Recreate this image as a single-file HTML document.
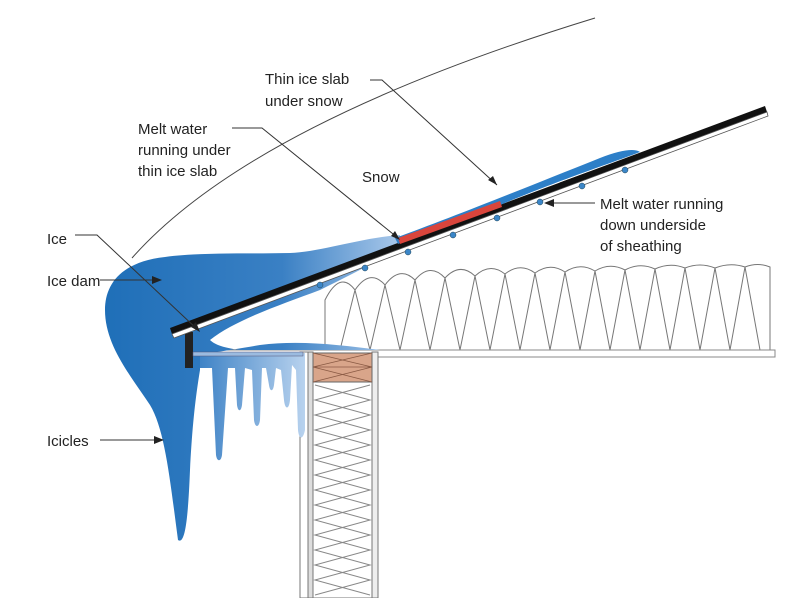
<!DOCTYPE html>
<html><head><meta charset="utf-8"><style>
html,body{margin:0;padding:0;background:#fff;}
svg{display:block;}
text{font-family:"Liberation Sans",sans-serif;font-size:15px;fill:#222;}
</style></head><body>
<svg width="785" height="598" viewBox="0 0 785 598" xmlns="http://www.w3.org/2000/svg">
<defs>
<linearGradient id="ice" x1="0" y1="0" x2="1" y2="0">
<stop offset="0" stop-color="#1f6fb8"/><stop offset="0.6" stop-color="#3a80c4"/><stop offset="1" stop-color="#a9c8ea"/>
</linearGradient>
<linearGradient id="ice2" x1="0" y1="0" x2="1" y2="0">
<stop offset="0" stop-color="#3f83c6"/><stop offset="1" stop-color="#b8d2ee"/>
</linearGradient>
</defs>
<path d="M132,258 C210,170 360,90 595,18" fill="none" stroke="#444" stroke-width="1"/>
<g fill="#fff" stroke="#777" stroke-width="1">
<path d="M325,350 L325,300 Q340,270 355,290 Q370,268 385,285 Q400,265 415,280 Q430,262 445,278 Q460,262 475,276 Q490,262 505,274 Q520,262 535,273 Q550,262 565,272 Q580,262 595,271 Q610,262 625,270 Q640,262 655,269 Q670,262 685,268 Q700,262 715,268 Q730,262 745,267 Q758,262 770,267 L770,350 Z"/>
<path d="M340,350 L355,290 L370,350 L385,285 L400,350 L415,280 L430,350 L445,278 L460,350 L475,276 L490,350 L505,274 L520,350 L535,273 L550,350 L565,272 L580,350 L595,271 L610,350 L625,270 L640,350 L655,269 L670,350 L685,268 L700,350 L715,268 L730,350 L745,267 L760,350" fill="none"/>
</g>
<rect x="195" y="350" width="580" height="7" fill="#fff" stroke="#888" stroke-width="1"/>
<rect x="300" y="352" width="8" height="246" fill="#fff" stroke="#777"/>
<rect x="308" y="352" width="5" height="246" fill="#ddd" stroke="#777"/>
<rect x="313" y="382" width="59" height="216" fill="#fff" stroke="#777"/>
<rect x="372" y="352" width="6" height="246" fill="#eee" stroke="#777"/>
<rect x="313" y="353" width="59" height="29" fill="#d9a58a" stroke="#666"/>
<path d="M313,367 H372 M313,353 L372,367 M313,367 L372,353 M313,367 L372,382 M313,382 L372,367" stroke="#8a5a44" stroke-width="0.8" fill="none"/>
<path d="M315,385 L370,400 L315,415 L370,430 L315,445 L370,460 L315,475 L370,490 L315,505 L370,520 L315,535 L370,550 L315,565 L370,580 L315,595 M370,385 L315,400 L370,415 L315,430 L370,445 L315,460 L370,475 L315,490 L370,505 L315,520 L370,535 L315,550 L370,565 L315,580 L370,595" stroke="#888" fill="none" stroke-width="1"/>
<path d="M400,235 C360,238 320,252 290,253 C250,254 200,252 165,257 C120,262 105,285 105,310 C105,345 130,375 150,405 C165,430 170,480 178,540 C185,545 188,520 190,470 C192,430 195,400 200,370 L200,355 C210,353 230,350 260,345 C300,340 340,345 380,350 L240,350 C225,348 215,345 210,340 C235,320 280,305 320,290 C350,275 380,260 400,248 Z" fill="url(#ice)"/>
<path d="M200,353 H305 L305,430 C303,440 299,440 298,430 L296,370 L292,365 L290,400 C289,410 285,410 284,400 L281,370 L276,368 L274,385 C273,392 270,392 269,385 L266,368 L262,368 L260,420 C259,428 255,428 254,420 L252,370 L245,368 L242,405 C241,412 238,412 237,405 L235,368 L228,368 L222,455 C221,462 217,462 216,455 L212,368 L200,368 Z" fill="url(#ice2)"/>
<rect x="185" y="332" width="8" height="36" fill="#222"/>
<rect x="193" y="352" width="110" height="4" fill="#9bbbe0" stroke="#557" stroke-width="0.5"/>
<path d="M170,328 L765,106 L767,112 L172,334 Z" fill="#111"/>
<path d="M172,334 L767,112 L768,116 L174,338 Z" fill="#fff" stroke="#555" stroke-width="0.8"/>
<path d="M226,310 L260,297 M300,284 L340,269 M460,222 L495,209 M560,184 L590,173 M640,155 L680,140 M715,127 L750,114" stroke="#111" stroke-width="3"/>
<path d="M395,238 C450,218 520,190 600,158 C620,150 635,148 640,152 C620,160 560,180 500,205 C460,220 420,235 398,244 Z" fill="#2d7fc8"/>
<path d="M398,238 L500,201 L502,207 L400,244 Z" fill="#d9453c"/>
<g fill="#3b86c8" stroke="#245" stroke-width="0.5">
<circle cx="320" cy="285" r="3"/><circle cx="365" cy="268" r="3"/><circle cx="408" cy="252" r="3"/><circle cx="453" cy="235" r="3"/><circle cx="497" cy="218" r="3"/><circle cx="540" cy="202" r="3"/><circle cx="582" cy="186" r="3"/><circle cx="625" cy="170" r="3"/>
</g>
<g stroke="#333" stroke-width="1" fill="none">
<path d="M370,80 H382 L497,185"/>
<path d="M232,128 H262 L398,238"/>
<path d="M75,235 H97 L198,330"/>
<path d="M100,280 H158"/>
<path d="M100,440 H160"/>
<path d="M595,203 H548"/>
</g>
<g fill="#222">
<path d="M497,185 L488,180 L493,176 Z"/>
<path d="M400,240 L391,236 L395,231 Z"/>
<path d="M200,332 L191,327 L196,322 Z"/>
<path d="M162,280 L152,276 L152,284 Z"/>
<path d="M164,440 L154,436 L154,444 Z"/>
<path d="M544,203 L554,199 L554,207 Z"/>
</g>
<text x="265" y="84">Thin ice slab</text>
<text x="265" y="106">under snow</text>
<text x="138" y="134">Melt water</text>
<text x="138" y="155">running under</text>
<text x="138" y="176">thin ice slab</text>
<text x="362" y="182">Snow</text>
<text x="47" y="244">Ice</text>
<text x="47" y="286">Ice dam</text>
<text x="47" y="446">Icicles</text>
<text x="600" y="209">Melt water running</text>
<text x="600" y="230">down underside</text>
<text x="600" y="251">of sheathing</text>
</svg>
</body></html>
